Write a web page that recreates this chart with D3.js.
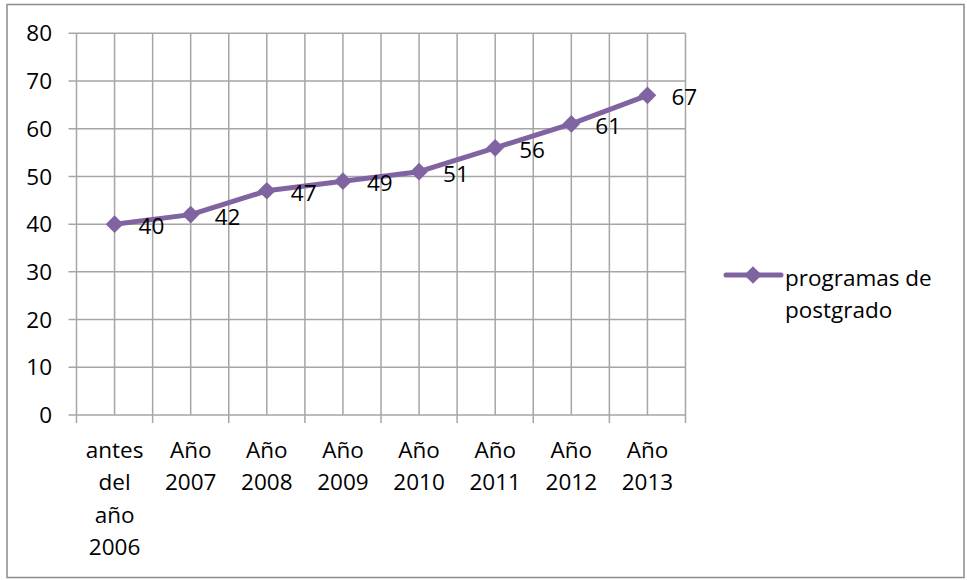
<!DOCTYPE html>
<html><head><meta charset="utf-8">
<script src="https://cdn.jsdelivr.net/npm/d3@7"></script>
<style>
html,body{margin:0;padding:0;background:#fff;}
text{font-family:"Open Sans",sans-serif;fill:#000;}
</style></head>
<body>
<svg id="chart" width="967" height="580"></svg>
<script>
const categories = ["antes del año 2006","Año 2007","Año 2008","Año 2009","Año 2010","Año 2011","Año 2012","Año 2013"];
const values = [40,42,47,49,51,56,61,67];
const yTicks = [0,10,20,30,40,50,60,70,80];
const seriesName = "programas de postgrado";

(function(){
const svg = d3.select("#chart");
const color = "#8064A2";
const grid = "#a6a6a6";
const fs = 22.5;

svg.append("rect").attr("x",7).attr("y",4.5).attr("width",957).attr("height",573)
  .attr("fill","#fff").attr("stroke","#8c8c8c").attr("stroke-width",1.5);

const pLeft=76.5, pRight=685.5, pTop=33.3, pBottom=415;
const x = d3.scaleBand().domain(categories).range([pLeft,pRight]).padding(0);
const y = d3.scaleLinear().domain([0,80]).range([pBottom,pTop]);

svg.append("g").selectAll("line").data(yTicks).join("line")
  .attr("x1",pLeft-8).attr("x2",pRight).attr("y1",d=>y(d)).attr("y2",d=>y(d))
  .attr("stroke",grid).attr("stroke-width",1.5);
const vx = [];
categories.forEach(c=>{vx.push(x(c)); vx.push(x(c)+x.bandwidth()/2);});
vx.push(pRight);
svg.append("g").selectAll("line").data(vx).join("line")
  .attr("x1",d=>d).attr("x2",d=>d).attr("y1",pTop).attr("y2",pBottom)
  .attr("stroke",grid).attr("stroke-width",1.5);
const bx = categories.map(c=>x(c)).concat([pRight]);
svg.append("g").selectAll("line").data(bx).join("line")
  .attr("x1",d=>d).attr("x2",d=>d).attr("y1",pBottom).attr("y2",pBottom+8)
  .attr("stroke",grid).attr("stroke-width",1.5);

svg.append("g").selectAll("text").data(yTicks).join("text")
  .attr("x",52).attr("y",d=>y(d)).attr("dy","0.36em").attr("text-anchor","end")
  .attr("font-size",fs).text(d=>d);

const xl = svg.append("g");
categories.forEach(c=>{
  const t = xl.append("text").attr("text-anchor","middle").attr("font-size",fs)
    .attr("x",x(c)+x.bandwidth()/2);
  const words = c.split(" ");
  let lines=[], cur="";
  const probe = svg.append("text").attr("font-size",fs);
  words.forEach(w=>{
    const test = cur? cur+" "+w : w;
    probe.text(test);
    if (probe.node().getComputedTextLength() > 72 && cur){ lines.push(cur); cur=w; }
    else cur=test;
  });
  lines.push(cur);
  probe.remove();
  lines.forEach((l,i)=>{
    t.append("tspan").attr("x",x(c)+x.bandwidth()/2).attr("y",458+i*32.3).text(l);
  });
});

const cx = c=>x(c)+x.bandwidth()/2;
const line = d3.line().x((d,i)=>cx(categories[i])).y(d=>y(d));
svg.append("path").datum(values).attr("d",line).attr("fill","none")
  .attr("stroke",color).attr("stroke-width",5).attr("stroke-linejoin","round");
const diamond = d3.symbol().type(d3.symbolDiamond2).size(200);
svg.append("g").selectAll("path").data(values).join("path")
  .attr("d",diamond).attr("transform",(d,i)=>`translate(${cx(categories[i])},${y(d)})`)
  .attr("fill",color);
svg.append("g").selectAll("text").data(values).join("text")
  .attr("x",(d,i)=>cx(categories[i])+24).attr("y",d=>y(d)+2).attr("dy","0.36em")
  .attr("font-size",fs).text(d=>d);

svg.append("line").attr("x1",726).attr("x2",781).attr("y1",275).attr("y2",275)
  .attr("stroke",color).attr("stroke-width",5).attr("stroke-linecap","round");
svg.append("path").attr("d",diamond).attr("transform","translate(753,275)").attr("fill",color);
const lt = svg.append("text").attr("font-size",fs);
const ln = seriesName.split(" ");
lt.append("tspan").attr("x",785).attr("y",286).text(ln.slice(0,2).join(" "));
lt.append("tspan").attr("x",785).attr("y",318).text(ln.slice(2).join(" "));
})();
</script>
</body></html>
